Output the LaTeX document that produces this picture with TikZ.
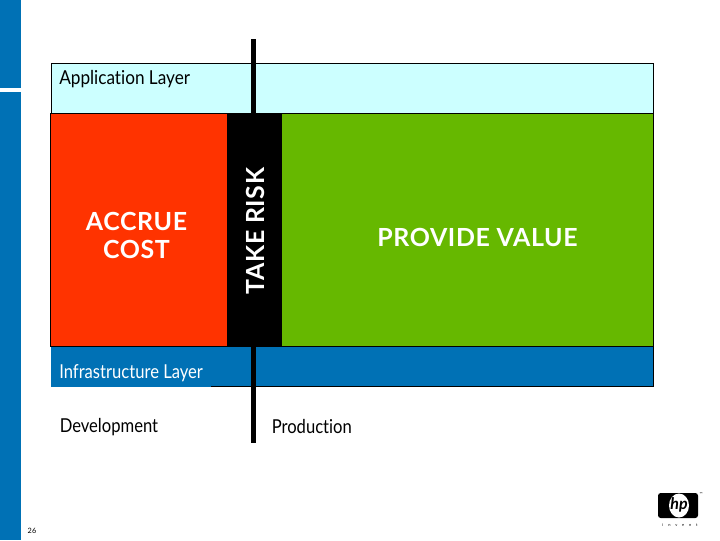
\documentclass[tikz,border=0pt]{standalone}
\usepackage{fontspec}
\usetikzlibrary{shapes.geometric}
\setmainfont{Lato}
\newfontfamily\layerfont[FakeStretch=0.865,Ligatures=NoCommon]{Lato}
\newfontfamily\appfont[FakeStretch=0.895,Ligatures=NoCommon]{Lato}
\newfontfamily\bigfont[LetterSpace=2.5]{Lato}
\definecolor{hpblue}{HTML}{0071B5}
\definecolor{appcyan}{HTML}{CCFFFF}
\definecolor{costred}{HTML}{FF3300}
\definecolor{valgreen}{HTML}{66B800}
\tikzset{
  panel/.style={draw=black,line width=0.6pt,anchor=north west,inner sep=0pt,outer sep=0pt},
  layertext/.style={anchor=west,inner sep=0pt,font=\fontsize{14.4}{16}\layerfont},
  bigtext/.style={align=center,inner sep=0pt,text=white,font=\fontsize{18.7}{21}\bigfont\bfseries},
}
\begin{document}
\begin{tikzpicture}[x=0.75pt,y=-0.75pt]
\useasboundingbox (0,0) rectangle (720,540);
\fill[hpblue] (0,0) rectangle (21,88);
\fill[hpblue] (0,92) rectangle (21,540);
\node[panel,fill=appcyan,minimum width=602*0.75pt,minimum height=50*0.75pt] (app) at (51.5,63.5) {};
\node[panel,fill=hpblue,minimum width=602*0.75pt,minimum height=40*0.75pt] (infra) at (51.5,346.5) {};
\fill[hpblue] (51,346) rectangle (211,387);
\coordinate (axistop) at (253.5,39);
\coordinate (axisbot) at (253.5,443);
\draw[line width=3.9pt] (axistop) -- (axisbot);
\node[panel,fill=costred,minimum width=177*0.75pt,minimum height=233*0.75pt] (cost) at (50.5,113.5) {};
\node[panel,fill=valgreen,minimum width=372*0.75pt,minimum height=233*0.75pt] (value) at (281.5,113.5) {};
\node[panel,draw=none,fill=black,minimum width=53.7*0.75pt,minimum height=233.5*0.75pt] (risk) at (228,113.2) {};
\node[layertext,font=\fontsize{14.4}{16}\appfont] (applabel) at (59,79) {Application Layer};
\node[layertext,text=white] (infralabel) at (59,373.5) {Infrastructure Layer};
\node[layertext] (devlabel) at (59.5,427) {Development};
\node[layertext] (prodlabel) at (271.5,426.5) {Production};
\node[bigtext] (costlabel) at (136.5,235) {ACCRUE\\COST};
\node[bigtext] (valuelabel) at (477.5,237) {PROVIDE VALUE};
\node[bigtext,rotate=90] (risklabel) at (255.5,231) {TAKE RISK};
\node[inner sep=0pt,font=\fontsize{5.5}{6}\selectfont] (pagenum) at (32,531) {26};
\node[fill=black,rounded corners=2pt,minimum width=40*0.75pt,minimum height=25*0.75pt,inner sep=0pt] (logo) at (678,505.5) {};
\node[fill=white,ellipse,minimum width=20*0.75pt,minimum height=24*0.75pt,inner sep=0pt] (logoc) at (679,505.5) {};
\node[inner sep=0pt,font=\fontsize{12}{12}\selectfont\bfseries\itshape] (logot) at (679,505) {hp};
\node[inner sep=0pt,font=\fontsize{3}{3}\selectfont] (logotm) at (701,494) {™};
\node[inner sep=0pt,font=\fontsize{3}{3}\selectfont] (logoi) at (680,525) {i\hspace{3.6pt}n\hspace{3.6pt}v\hspace{3.6pt}e\hspace{3.6pt}n\hspace{3.6pt}t};
\end{tikzpicture}
\end{document}
